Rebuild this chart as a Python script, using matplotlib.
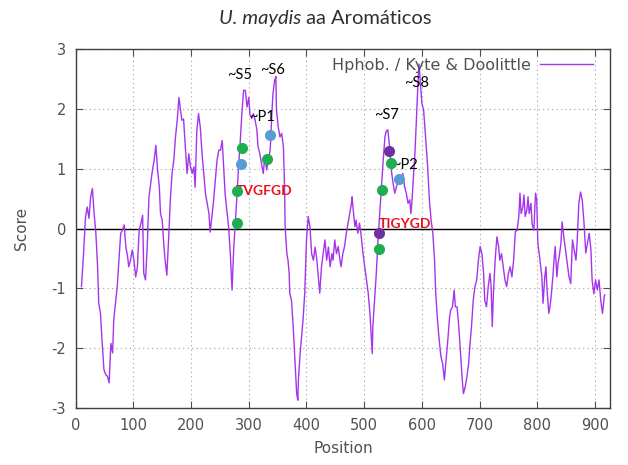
import matplotlib
matplotlib.use("Agg")
import matplotlib.pyplot as plt

plt.rcParams["axes.unicode_minus"] = False

# Kyte & Doolittle hydrophobicity profile
position = [10, 13, 17, 20, 23, 26, 29, 32, 35, 38, 40, 43, 46, 49, 52, 55, 58, 61, 64, 66,
            69, 72, 75, 78, 81, 84, 87, 90, 92, 95, 98, 101, 104, 107, 110, 113, 116, 118, 121, 124,
            127, 130, 133, 136, 139, 142, 145, 147, 150, 153, 155, 158, 161, 164, 167, 170, 173, 176, 179, 181,
            184, 187, 190, 193, 196, 199, 202, 205, 207, 210, 213, 216, 219, 222, 225, 228, 231, 233, 236, 239,
            242, 245, 248, 251, 254, 257, 259, 262, 265, 268, 271, 274, 277, 280, 283, 285, 288, 291, 294, 297,
            300, 302, 305, 308, 311, 314, 316, 319, 322, 325, 328, 331, 334, 337, 338, 340, 342, 345, 347, 348,
            351, 354, 357, 360, 362, 363, 366, 368, 370, 371, 374, 377, 380, 383, 385, 386, 389, 392, 394, 397,
            400, 403, 406, 409, 412, 415, 418, 420, 423, 426, 429, 432, 435, 438, 441, 444, 446, 449, 452, 455,
            458, 460, 463, 466, 469, 472, 475, 478, 479, 481, 484, 486, 489, 492, 495, 498, 501, 504, 507, 510,
            512, 514, 515, 518, 521, 524, 527, 530, 533, 536, 538, 541, 544, 547, 550, 553, 556, 559, 562, 564,
            567, 570, 573, 576, 579, 581, 583, 585, 588, 590, 593, 595, 597, 600, 603, 606, 610, 613, 616, 619,
            622, 624, 627, 630, 633, 636, 639, 642, 645, 648, 650, 653, 656, 658, 661, 664, 667, 670, 672, 675,
            678, 681, 683, 686, 689, 692, 695, 698, 701, 704, 707, 709, 712, 715, 718, 720, 722, 724, 727, 730,
            733, 735, 738, 741, 744, 747, 750, 753, 756, 759, 762, 765, 768, 770, 772, 775, 777, 779, 782, 784,
            786, 789, 791, 794, 797, 799, 801, 804, 806, 808, 810, 813, 815, 817, 820, 822, 824, 827, 829, 831,
            834, 836, 838, 841, 843, 846, 849, 852, 855, 858, 861, 864, 867, 869, 872, 875, 878, 881, 884, 887,
            890, 893, 895, 898, 901, 904, 907, 910, 913, 916, 917]
score = [-0.97, -0.53, 0.19, 0.36, 0.17, 0.53, 0.67, 0.25, -0.08, -0.64, -1.25, -1.42, -1.92, -2.36, -2.44, -2.47, -2.58, -1.92, -2.08, -1.53,
         -1.25, -0.97, -0.53, -0.08, -0.03, 0.06, -0.31, -0.47, -0.64, -0.53, -0.36, -0.53, -0.81, -0.64, -0.03, 0.08, 0.22, -0.75, -0.86, -0.31,
         0.53, 0.75, 0.97, 1.14, 1.39, 0.97, 0.69, 0.25, 0.14, -0.31, -0.53, -0.78, -0.19, 0.47, 0.92, 1.14, 1.53, 1.81, 2.19, 2.03,
         1.81, 1.83, 1.36, 0.92, 1.25, 1.03, 0.92, 1.03, 0.69, 1.64, 1.92, 1.69, 1.25, 0.92, 0.58, 0.42, 0.25, -0.06, 0.19, 0.47,
         0.81, 1.14, 1.31, 1.31, 1.47, 0.92, 0.58, 0.31, 0.03, -0.42, -1.03, -0.31, 0.14, 0.64, 1.14, 1.42, 1.92, 2.31, 2.31, 2.03,
         2.19, 1.90, 1.84, 1.92, 1.81, 1.65, 1.37, 1.26, 1.09, 0.92, 1.20, 0.98, 1.15, 1.31, 1.48, 1.93, 2.26, 2.48, 2.54, 1.98,
         1.70, 1.53, 1.59, 1.37, 0.70, 0.03, -0.42, -0.53, -0.75, -1.08, -1.20, -1.64, -2.20, -2.76, -2.87, -2.53, -2.09, -1.75, -1.53, -1.08,
         -0.19, 0.20, 0.03, -0.42, -0.53, -0.31, -0.53, -0.75, -1.08, -0.64, -0.42, -0.19, -0.53, -0.31, -0.64, -0.42, -0.53, -0.19, -0.42, -0.30,
         -0.53, -0.64, -0.42, -0.30, -0.08, 0.09, 0.25, 0.42, 0.53, 0.31, 0.03, 0.14, -0.08, 0.09, -0.14, -0.42, -0.64, -0.86, -1.08, -1.42,
         -1.75, -2.09, -1.64, -1.20, -0.75, -0.19, 0.25, 0.70, 1.15, 1.53, 1.62, 1.65, 1.37, 0.98, 0.76, 0.59, 0.70, 0.81, 0.87, 0.81,
         0.92, 0.70, 0.59, 0.42, 0.48, 0.25, 0.48, 0.81, 1.26, 1.70, 2.37, 2.75, 2.48, 2.09, 1.98, 1.59, 1.03, 0.48, 0.14, -0.08,
         -0.53, -1.08, -1.53, -1.86, -2.14, -2.26, -2.53, -2.20, -1.86, -1.48, -1.36, -1.31, -1.03, -1.31, -1.31, -1.64, -2.09, -2.53, -2.76, -2.65,
         -2.48, -2.26, -1.98, -1.64, -1.20, -0.97, -0.86, -0.53, -0.30, -0.42, -0.75, -1.20, -1.31, -0.97, -0.75, -0.97, -1.64, -1.08, -0.53, -0.14,
         -0.30, -0.53, -0.42, -0.64, -0.86, -0.97, -0.75, -0.64, -0.81, -0.53, -0.05, -0.03, 0.20, 0.59, 0.25, 0.36, 0.56, 0.20, 0.31, 0.53,
         0.25, 0.42, 0.08, -0.03, 0.59, 0.48, -0.25, -0.47, -0.64, -0.81, -1.25, -0.81, -0.64, -1.03, -1.42, -1.31, -1.14, -0.81, -0.53, -0.30,
         -0.81, -0.58, -0.47, -0.25, 0.11, -0.14, -0.36, -0.58, -0.81, -0.92, -0.19, -0.36, -0.53, -0.25, 0.42, 0.61, 0.47, 0.09, -0.41, -0.25,
         -0.08, -0.36, -0.86, -1.09, -0.86, -1.03, -0.86, -1.20, -1.42, -1.14, -1.11]

# Highlighted residues
green_x = [280, 280, 288, 331, 531, 547, 525]
green_y = [0.10, 0.63, 1.34, 1.16, 0.64, 1.10, -0.35]
blue_x = [286, 337, 560]
blue_y = [1.07, 1.56, 0.82]
purple_x = [543, 525]
purple_y = [1.30, -0.07]

# Annotation labels
seg_labels = ["~S5", "~S6", "~P1", "~S7", "~S8", "~P2"]
seg_x = [285, 341, 323, 539, 590, 570]
seg_y = [2.57, 2.65, 1.87, 1.90, 2.43, 1.06]
motif_labels = ["TVGFGD", "TIGYGD"]
motif_x = [278, 526]
motif_y = [0.62, 0.08]

xticks = [0, 100, 200, 300, 400, 500, 600, 700, 800, 900]
yticks = [-3, -2, -1, 0, 1, 2, 3]

fig = plt.figure(figsize=(6.28, 4.65), dpi=100)
ax = fig.add_axes([0.1205, 0.1226, 0.8508, 0.772])

line_col = "#a535ec"
ax.plot(position, score, color=line_col, lw=1.0, label="Hphob. / Kyte & Doolittle", zorder=3)
ax.axhline(0, color="black", lw=1.0, zorder=2)

for lab, x, y in zip(seg_labels, seg_x, seg_y):
    ax.text(x, y, lab, ha="center", va="center", fontsize=10.5, family="Lato", color="black", zorder=4)
for lab, x, y in zip(motif_labels, motif_x, motif_y):
    ax.text(x, y, lab, ha="left", va="center", fontsize=10, family="Lato", fontweight="bold",
            color="#e8141c", zorder=4)

ax.plot(green_x, green_y, "o", color="#1fae4f", ms=8, mec="none", zorder=5)
ax.plot(blue_x, blue_y, "o", color="#5b9bd5", ms=8, mec="none", zorder=5)
ax.plot(purple_x, purple_y, "o", color="#7030a0", ms=8, mec="none", zorder=5)

ax.set_xlim(0, 926)
ax.set_ylim(-3, 3)
ax.set_xticks(xticks)
ax.set_yticks(yticks)
ax.grid(True, linestyle=(0, (1, 3)), color="#a0a0a0", lw=0.8, zorder=1)
ax.tick_params(direction="in", top=True, right=True, length=5, labelsize=10.5,
               labelcolor="#505050", color="#505050", pad=7)
for sp in ax.spines.values():
    sp.set_color("#404040")
    sp.set_linewidth(1.0)

ax.set_xlabel("Position", fontsize=11, color="#505050", labelpad=6)
ax.set_ylabel("Score", fontsize=11, color="#505050", labelpad=16)

leg = ax.legend(loc="upper right", frameon=False, markerfirst=False, handlelength=3.3,
                fontsize=11.5, labelcolor="#505050", borderaxespad=0.15, handletextpad=0.6)
leg.set_bbox_to_anchor((0.985, 1.0), transform=ax.transAxes)

# Title: italic species name + regular rest, centred as a whole
fig.canvas.draw()
r = fig.canvas.get_renderer()
t1 = fig.text(0, 0.960, "U. maydis", ha="left", va="center", fontsize=14.5,
              family="Lato", style="italic", color="#303030")
t2 = fig.text(0, 0.960, " aa Aromáticos", ha="left", va="center", fontsize=14.5,
              family="Lato", color="#303030")
w1 = t1.get_window_extent(r).width / fig.bbox.width
w2 = t2.get_window_extent(r).width / fig.bbox.width
x0 = 0.518 - (w1 + w2) / 2
t1.set_x(x0)
t2.set_x(x0 + w1)

fig.savefig("out.png", dpi=100, facecolor="white")
